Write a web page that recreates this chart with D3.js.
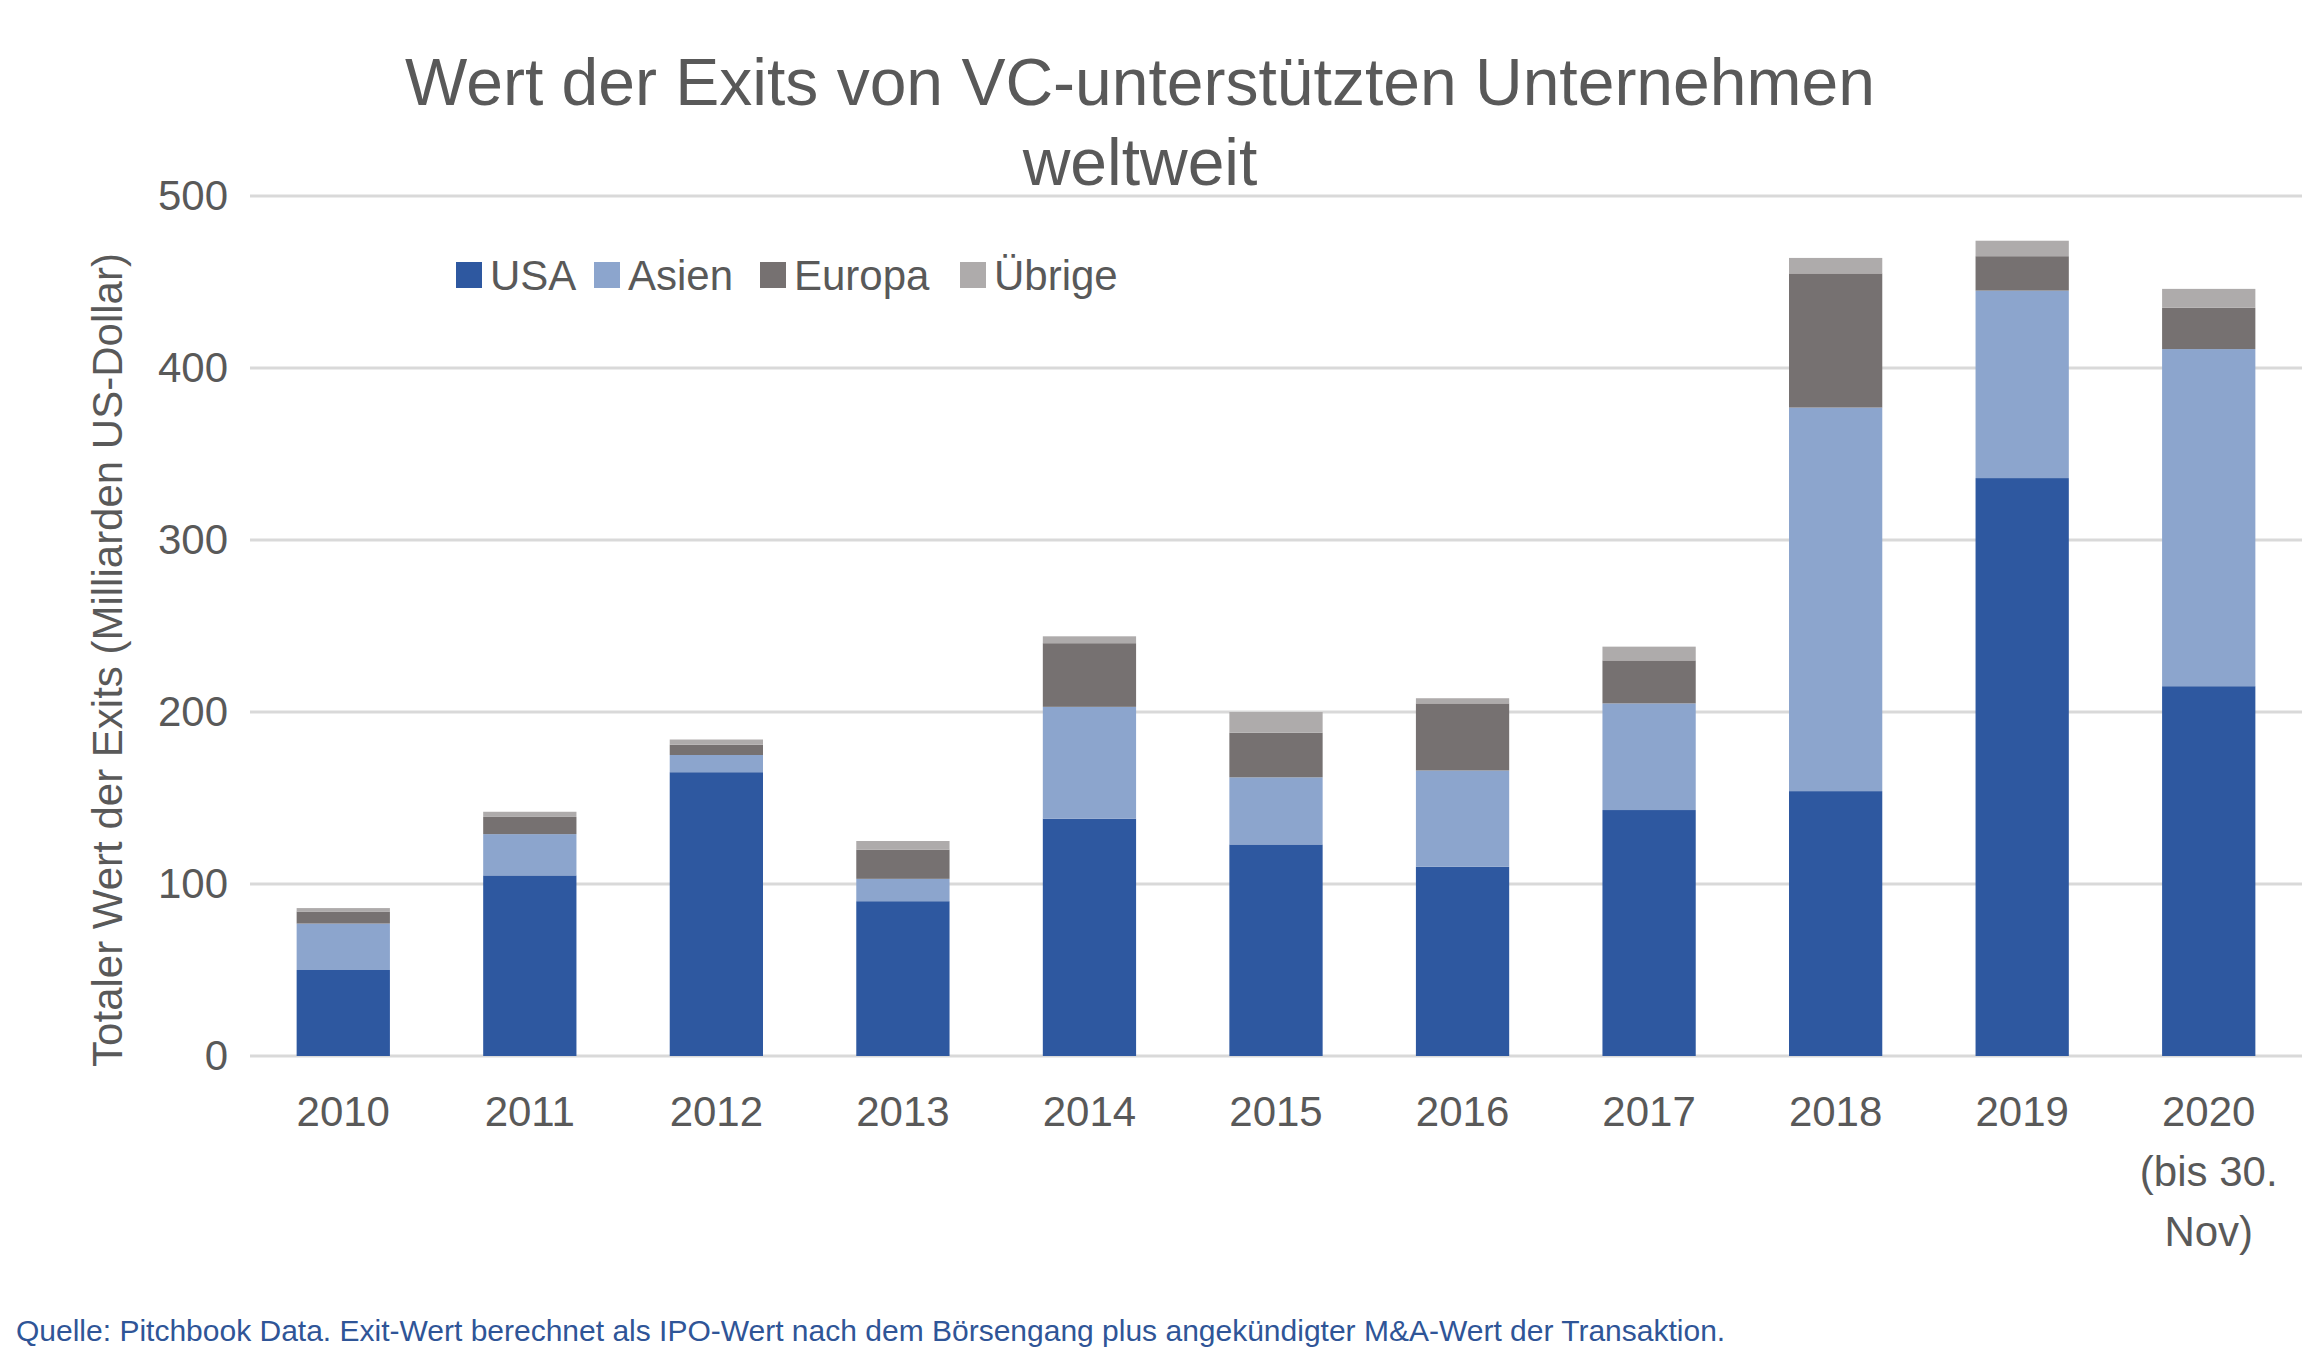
<!DOCTYPE html>
<html><head><meta charset="utf-8">
<script src="https://cdn.jsdelivr.net/npm/d3@7"></script>
<style>body{margin:0;background:#fff}</style>
</head><body>
<svg id="chart" width="2320" height="1360"></svg>
<script>
// Daten
const years = ["2010","2011","2012","2013","2014","2015","2016","2017","2018","2019","2020"];
const yearLabels = [["2010"],["2011"],["2012"],["2013"],["2014"],["2015"],["2016"],["2017"],["2018"],["2019"],["2020","(bis 30.","Nov)"]];
const seriesNames = ["USA","Asien","Europa","Übrige"];
const usa    = [50,105,165,90,138,123,110,143,154,336,215];
const asien  = [27,24,10,13,65,39,56,62,223,109,196];
const europa = [7,10,6,17,37,26,39,25,78,20,24];
const uebrige= [2,3,3,5,4,12,3,8,9,9,11];
const yTicks = [0,100,200,300,400,500];

const colors = ["#2e58a0","#8ca5cd","#767171","#aeabab"];
const font = "Liberation Sans, Arial, sans-serif";
const textCol = "#595959";

let margin = {top:196, left:250, right:18, bottom:304};
let width = 2320 - margin.left - margin.right;
let height = 1360 - margin.top - margin.bottom;

let svg = d3.select("#chart");
let g = svg.append("g").attr("transform",`translate(${margin.left},${margin.top})`);

let table = years.map((y,i)=>({year:y, USA:usa[i], Asien:asien[i], Europa:europa[i], "Übrige":uebrige[i]}));
let stack = d3.stack().keys(seriesNames)(table);

let x = d3.scaleBand().domain(years).range([0,width]).paddingInner(0.5).paddingOuter(0.25);
let y = d3.scaleLinear().domain([0,500]).range([height,0]);

// Gitterlinien
g.selectAll(".grid").data(yTicks).enter().append("line")
  .attr("x1",0).attr("x2",width)
  .attr("y1",d=>y(d)).attr("y2",d=>y(d))
  .attr("stroke","#d9d9d9").attr("stroke-width",3);

// Balken
g.selectAll(".serie").data(stack).enter().append("g")
  .attr("fill",(d,i)=>colors[i])
  .selectAll("rect").data(d=>d).enter().append("rect")
    .attr("x",d=>x(d.data.year))
    .attr("width",x.bandwidth())
    .attr("y",d=>y(d[1]))
    .attr("height",d=>y(d[0])-y(d[1]));

// Y-Achse
let yAxis = g.append("g").call(d3.axisLeft(y).tickValues(yTicks).tickSize(0).tickPadding(22));
yAxis.select(".domain").remove();
yAxis.selectAll("text").attr("font-family",font).attr("font-size",42).attr("fill",textCol);

// X-Achse
let xl = g.selectAll(".xl").data(years).enter().append("text")
  .attr("x",d=>x(d)+x.bandwidth()/2).attr("y",height+70)
  .attr("text-anchor","middle").attr("font-family",font).attr("font-size",42).attr("fill",textCol);
xl.each(function(d,i){
  d3.select(this).selectAll("tspan").data(yearLabels[i]).enter().append("tspan")
    .attr("x",x(d)+x.bandwidth()/2).attr("dy",(t,j)=>j?60:0).text(t=>t);
});

// Titel
svg.append("text").attr("x",1140).attr("y",105).attr("text-anchor","middle")
  .attr("font-family",font).attr("font-size",66).attr("fill",textCol)
  .text("Wert der Exits von VC-unterstützten Unternehmen");
svg.append("text").attr("x",1140).attr("y",185).attr("text-anchor","middle")
  .attr("font-family",font).attr("font-size",66).attr("fill",textCol)
  .text("weltweit");

// Achsentitel
svg.append("text").attr("transform","translate(122,660) rotate(-90)").attr("text-anchor","middle")
  .attr("font-family",font).attr("font-size",42).attr("fill",textCol)
  .text("Totaler Wert der Exits (Milliarden US-Dollar)");

// Legende
let legX = [456,594,760,960];
let leg = svg.selectAll(".leg").data(seriesNames).enter().append("g")
  .attr("transform",(d,i)=>`translate(${legX[i]},275)`);
leg.append("rect").attr("x",0).attr("y",-13).attr("width",26).attr("height",26).attr("fill",(d,i)=>colors[i]);
leg.append("text").attr("x",34).attr("y",15).attr("font-family",font).attr("font-size",42).attr("fill",textCol).text(d=>d);

// Quelle
svg.append("text").attr("x",16).attr("y",1341).attr("font-family",font).attr("font-size",30).attr("fill","#2f5597")
  .text("Quelle: Pitchbook Data. Exit-Wert berechnet als IPO-Wert nach dem Börsengang plus angekündigter M&A-Wert der Transaktion.");
</script>
</body></html>
